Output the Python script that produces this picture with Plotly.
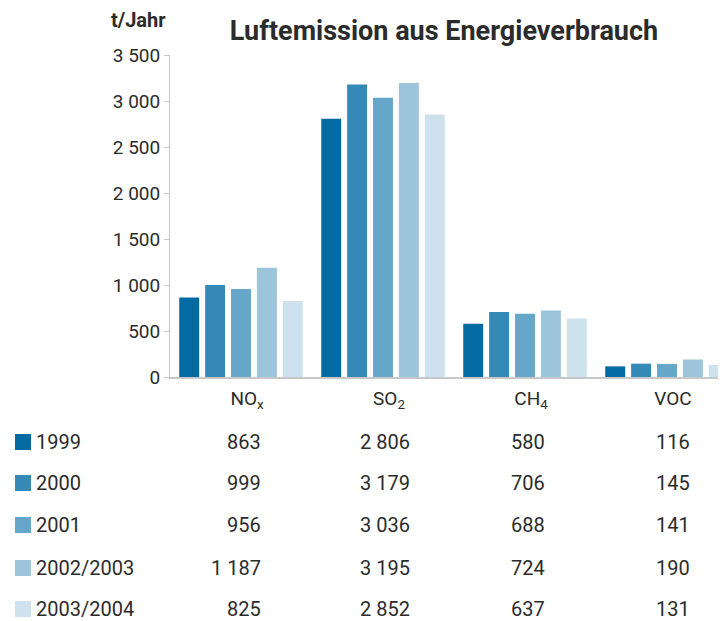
import plotly.graph_objects as go

categories = ["NO<sub>x</sub>", "SO<sub>2</sub>", "CH<sub>4</sub>", "VOC"]
series_names = ["1999", "2000", "2001", "2002/2003", "2003/2004"]
v1999 = [863, 2806, 580, 116]
v2000 = [999, 3179, 706, 145]
v2001 = [956, 3036, 688, 141]
v2002 = [1187, 3195, 724, 190]
v2003 = [825, 2852, 637, 131]
series_values = [v1999, v2000, v2001, v2002, v2003]
colors = ["#036ba1", "#3589b7", "#66a7c9", "#9cc4da", "#cde2ed"]
y_tickvals = [0, 500, 1000, 1500, 2000, 2500, 3000, 3500]
title_text = "Luftemission aus Energieverbrauch"
unit_text = "t/Jahr"

OFF = 8  # page offset of the figure (body margin)
W, H = 726, 621
# plot area in page coordinates: x 170..726, y 55..377
L = 170 - OFF
T = 55 - OFF
B = H - (377 - OFF)
R = OFF
PW, PH = W - L - R, H - T - B

def px(x):
    return (x - OFF - L) / PW

def py(y):
    return (H - B - (y - OFF)) / PH

def fmt(v):
    return f"{v:,}".replace(",", " ")

FONT = "Roboto"
TXT = "#2b2b2b"

fig = go.Figure()
for name, vals, c in zip(series_names, series_values, colors):
    fig.add_trace(go.Bar(x=categories, y=vals, name=name, marker_color=c,
                         marker_line_width=0, showlegend=False))

ann = []
shapes = []
row_y = [442, 483, 525, 568, 609]
col_right = [263, 412, 547, 692]
for i, (name, vals, c) in enumerate(zip(series_names, series_values, colors)):
    yy = row_y[i]
    shapes.append(dict(type="rect", xref="paper", yref="paper",
                       x0=px(15), x1=px(31), y0=py(yy - 8), y1=py(yy + 8),
                       fillcolor=c, line_width=0))
    ann.append(dict(text=name, xref="paper", yref="paper", x=px(34), y=py(yy),
                    xanchor="left", yanchor="middle", showarrow=False,
                    font=dict(family=FONT, size=20, color=TXT)))
    for j, v in enumerate(vals):
        ann.append(dict(text=fmt(v), xref="paper", yref="paper", x=px(col_right[j]), y=py(yy),
                        xanchor="right", yanchor="middle", showarrow=False,
                        font=dict(family=FONT, size=20, color=TXT)))

ann.append(dict(text=f"<b>{unit_text}</b>", xref="paper", yref="paper", x=px(138), y=py(20),
                xanchor="center", yanchor="middle", showarrow=False,
                font=dict(family=FONT, size=20, color=TXT)))

fig.update_layout(
    width=W, height=H,
    margin=dict(l=L, r=R, t=T, b=B, pad=0),
    paper_bgcolor="white", plot_bgcolor="white",
    barmode="group", bargap=0.088, bargroupgap=0.23,
    title=dict(text=f"<b>{title_text}</b>", x=(444 - OFF) / W, xanchor="center",
               y=1 - (31 - OFF) / H, yanchor="middle", xref="container", yref="container",
               font=dict(family=FONT, size=27, color=TXT)),
    font=dict(family=FONT, size=19, color=TXT),
    xaxis=dict(range=[-0.5, -0.5 + PW / 142], showline=True, linecolor="#c8c8c8", linewidth=2,
               ticks="", showgrid=False, zeroline=False, ticklabelshift=6, ticklabelstandoff=3,
               tickfont=dict(family=FONT, size=19, color=TXT), fixedrange=True),
    yaxis=dict(range=[0, 3500], tickvals=y_tickvals, ticktext=[fmt(v) for v in y_tickvals],
               showline=True, linecolor="#c8c8c8", linewidth=1, ticks="outside", ticklen=5,
               tickcolor="#c8c8c8", showgrid=False, zeroline=False,
               tickfont=dict(family=FONT, size=19, color=TXT)),
    annotations=ann, shapes=shapes,
)

fig.write_html("out.html")
